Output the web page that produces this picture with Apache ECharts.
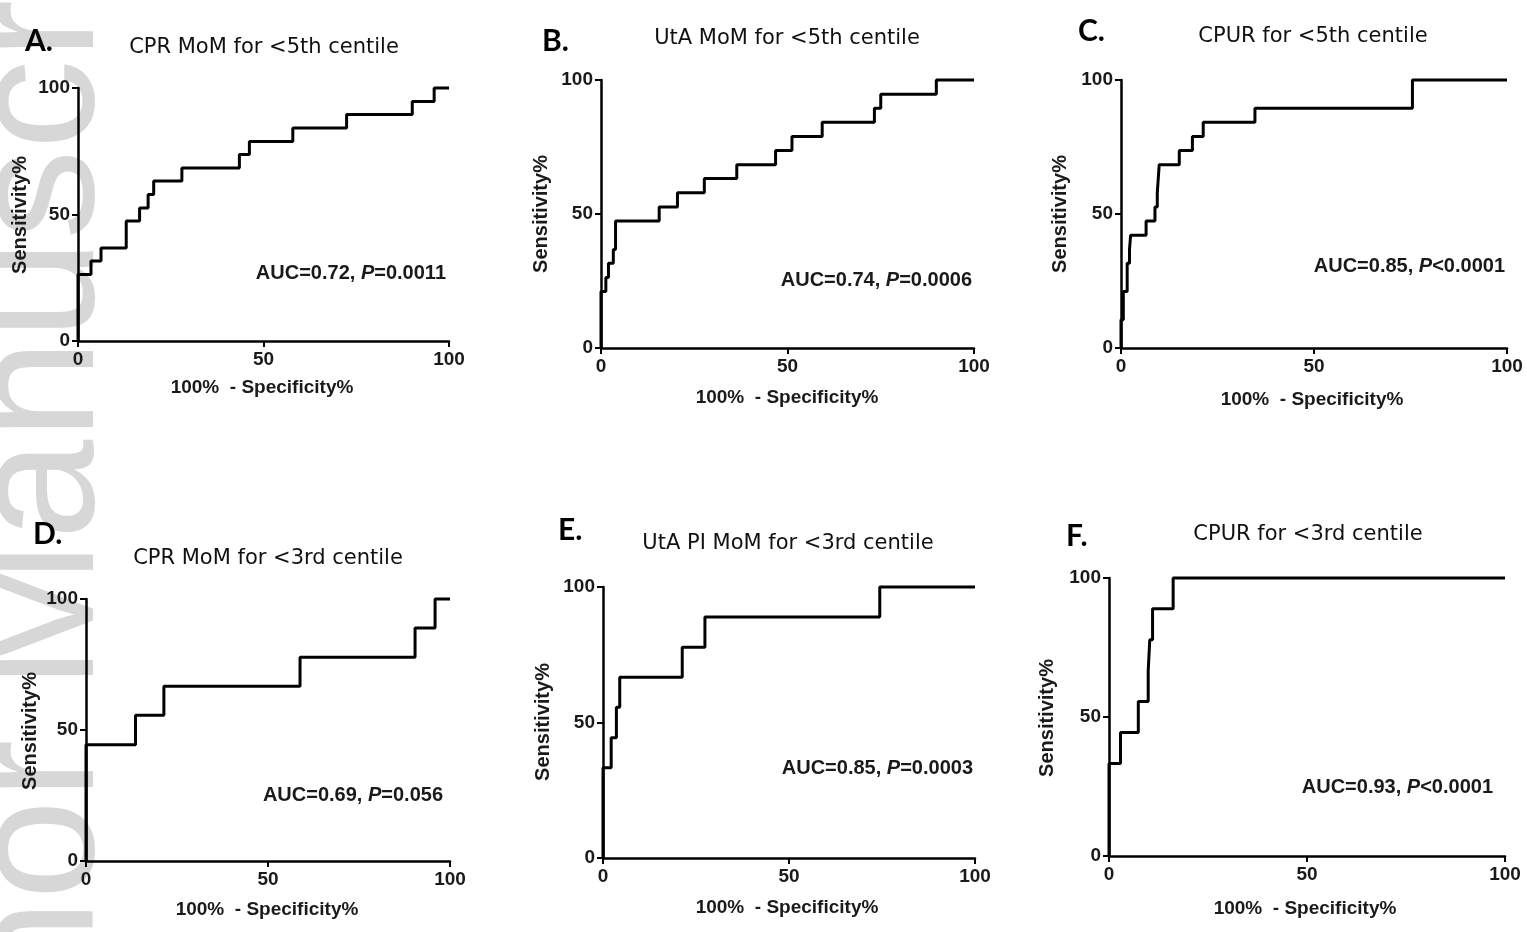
<!DOCTYPE html>
<html>
<head>
<meta charset="utf-8">
<script src="https://cdn.jsdelivr.net/npm/echarts@6/dist/echarts.min.js"></script>
<style>
  html, body { margin: 0; padding: 0; background: #fff; }
  #main { width: 1527px; height: 932px; }
</style>
</head>
<body>
<div id="main"></div>
<script>
// ROC curves (x = 100% - specificity, y = sensitivity)
var fprA = [0, 0, 3.5, 6.2, 13, 16.6, 18.9, 20.4, 28, 43.5, 46.2, 57.9, 72.4, 90.1, 96, 100];
var sensA = [0, 26.3, 31.6, 36.8, 47.4, 52.6, 57.9, 63.2, 68.4, 73.7, 78.9, 84.2, 89.5, 94.7, 100, 100];

var fprB = [0, 0, 1.3, 2, 3.3, 3.9, 15.6, 20.5, 27.7, 36.4, 46.8, 51.2, 59.3, 73.3, 75, 89.9, 100];
var sensB = [0, 21.1, 26.3, 31.6, 36.8, 47.4, 52.6, 57.9, 63.2, 68.4, 73.7, 78.9, 84.2, 89.5, 94.7, 100, 100];

var fprC = [0, 0, 0.6, 1.6, 2.2, 2.5, 6.5, 8.8, 9.4, 9.9, 15.1, 18.5, 21.3, 34.7, 75.5, 100];
var sensC = [0, 10.5, 21.1, 31.6, 36.8, 42.1, 47.4, 52.6, 57.9, 68.4, 73.7, 78.9, 84.2, 89.5, 100, 100];

var fprD = [0, 0, 13.6, 21.4, 58.8, 90.4, 95.9, 100];
var sensD = [0, 44.4, 55.6, 66.7, 77.8, 88.9, 100, 100];

var fprE = [0, 0, 2.2, 3.6, 4.5, 21.3, 27.4, 74.4, 100];
var sensE = [0, 33.3, 44.4, 55.6, 66.7, 77.8, 88.9, 100, 100];

var fprF = [0, 0, 2.9, 7.4, 9.9, 10.3, 11, 16.2, 100];
var sensF = [0, 33.3, 44.4, 55.6, 66.7, 77.8, 88.9, 100, 100];

var letters = ['A.', 'B.', 'C.', 'D.', 'E.', 'F.'];
var titles = ['CPR MoM for <5th centile', 'UtA MoM for <5th centile', 'CPUR for <5th centile',
              'CPR MoM for <3rd centile', 'UtA PI MoM for <3rd centile', 'CPUR for <3rd centile'];
var aucs = ['0.72', '0.74', '0.85', '0.69', '0.85', '0.93'];
var pvals = ['=0.0011', '=0.0006', '<0.0001', '=0.056', '=0.0003', '<0.0001'];
var axisTicks = [0, 50, 100];

var xs = [fprA, fprB, fprC, fprD, fprE, fprF];
var ys = [sensA, sensB, sensC, sensD, sensE, sensF];

// layout of each panel (pixels)
var panels = [
    { grid: [78, 88, 371, 253],  letter: [25, 26],   title: [264, 48],   yName: [20, 215],   xName: [262, 388], auc: [446, 273] },
    { grid: [601, 80, 373, 268], letter: [542, 26],  title: [787, 39],   yName: [541, 214],  xName: [787, 398], auc: [972, 280] },
    { grid: [1121, 80, 386, 268], letter: [1078, 16], title: [1313, 37], yName: [1060, 214], xName: [1312, 400], auc: [1505, 266] },
    { grid: [86, 599, 364, 262], letter: [33, 519],  title: [268, 559],  yName: [30, 731],   xName: [267, 910], auc: [443, 795] },
    { grid: [603, 587, 372, 271], letter: [558, 515], title: [788, 544], yName: [543, 722],  xName: [787, 908], auc: [973, 768] },
    { grid: [1109, 578, 396, 278], letter: [1066, 521], title: [1308, 535], yName: [1047, 718], xName: [1305, 909], auc: [1493, 787] }
];

var grids = [], xAxes = [], yAxes = [], series = [], graphics = [];

// faint vertical "Author Manuscript" watermark along the left edge
graphics.push({
    type: 'text',
    x: 43, y: 1270,
    rotation: Math.PI / 2,
    z: -10,
    style: {
        text: 'Author Manuscript',
        fontSize: 180,
        fontFamily: 'Liberation Sans, Arial, sans-serif',
        fill: '#d7d7d7',
        textAlign: 'left', align: 'left',
        textVerticalAlign: 'middle', verticalAlign: 'middle'
    }
});

function axisCommon(i) {
    return {
        type: 'value',
        gridIndex: i,
        min: 0,
        max: 100,
        interval: 50,
        splitLine: { show: false },
        axisLine: { show: true, onZero: false, lineStyle: { color: '#000', width: 2.5 } },
        axisTick: { show: true, length: 6, lineStyle: { color: '#000', width: 2 } },
        axisLabel: {
            color: '#1a1a1a',
            fontSize: 19,
            fontWeight: 'bold',
            fontFamily: 'Liberation Sans Narrow, Arial Narrow, Liberation Sans, sans-serif',
            customValues: axisTicks
        }
    };
}

panels.forEach(function (p, i) {
    grids.push({ left: p.grid[0], top: p.grid[1], width: p.grid[2], height: p.grid[3] });

    var xa = axisCommon(i);
    xa.axisLabel.margin = 9;
    xAxes.push(xa);
    var ya = axisCommon(i);
    ya.axisLabel.margin = 8;
    yAxes.push(ya);

    series.push({
        type: 'line',
        xAxisIndex: i,
        yAxisIndex: i,
        step: 'end',
        symbol: 'none',
        clip: false,
        animation: false,
        lineStyle: { color: '#000', width: 3 },
        data: xs[i].map(function (x, k) { return [x, ys[i][k]]; })
    });

    graphics.push({
        type: 'text', x: p.letter[0], y: p.letter[1],
        style: { text: letters[i], fontSize: 30, fontWeight: 'bold', fontFamily: 'Lato, Open Sans, sans-serif',
                 fill: '#000', textAlign: 'left', align: 'left', textVerticalAlign: 'top', verticalAlign: 'top' }
    });
    graphics.push({
        type: 'text', x: p.title[0], y: p.title[1],
        style: { text: titles[i], fontSize: 21, fontFamily: 'DejaVu Sans, sans-serif',
                 fill: '#111', textAlign: 'center', align: 'center', textVerticalAlign: 'middle', verticalAlign: 'middle' }
    });
    graphics.push({
        type: 'text', x: p.xName[0], y: p.xName[1],
        style: { text: '100%  - Specificity%', fontSize: 19, fontWeight: 'bold', fontFamily: 'Liberation Sans, Arial, sans-serif',
                 fill: '#1a1a1a', textAlign: 'center', align: 'center', textVerticalAlign: 'middle', verticalAlign: 'middle' }
    });
    graphics.push({
        type: 'text', x: p.yName[0], y: p.yName[1], rotation: Math.PI / 2,
        style: { text: 'Sensitivity%', fontSize: 20, fontWeight: 'bold', fontFamily: 'Liberation Sans, Arial, sans-serif',
                 fill: '#1a1a1a', textAlign: 'center', align: 'center', textVerticalAlign: 'middle', verticalAlign: 'middle' }
    });
    graphics.push({
        type: 'text', x: p.auc[0], y: p.auc[1],
        style: {
            text: '{n|AUC=' + aucs[i] + ', }{i|P}{n|' + pvals[i] + '}',
            textAlign: 'right', align: 'right', textVerticalAlign: 'middle', verticalAlign: 'middle',
            rich: {
                n: { fontSize: 20, fontWeight: 'bold', fontFamily: 'Liberation Sans, Arial, sans-serif', fill: '#1a1a1a', color: '#1a1a1a' },
                i: { fontSize: 20, fontWeight: 'bold', fontStyle: 'italic', fontFamily: 'Liberation Sans, Arial, sans-serif', fill: '#1a1a1a', color: '#1a1a1a' }
            }
        }
    });
});

var myChart = echarts.init(document.getElementById('main'), null, { renderer: 'canvas' });
var option = {
    animation: false,
    backgroundColor: '#fff',
    grid: grids,
    xAxis: xAxes,
    yAxis: yAxes,
    series: series,
    graphic: { elements: graphics }
};
myChart.setOption(option);
</script>
</body>
</html>
